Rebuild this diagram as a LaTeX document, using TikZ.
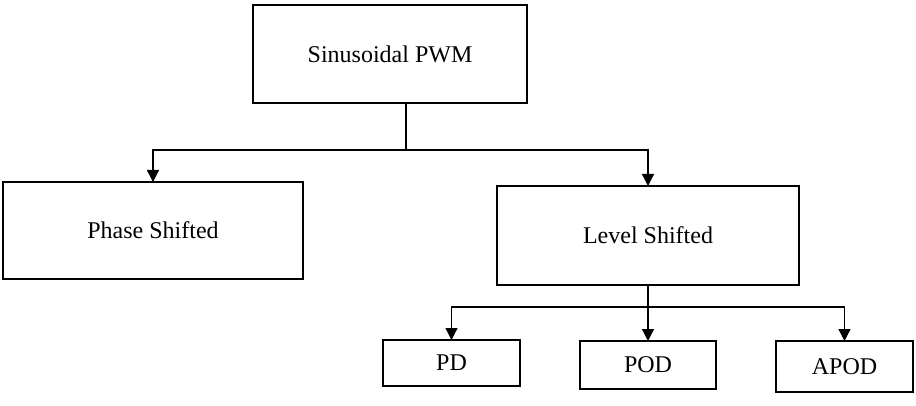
\documentclass[tikz,border=0pt]{standalone}
\usepackage{fontspec}
\setmainfont{Liberation Serif}
\usetikzlibrary{arrows.meta}
\begin{document}
\begin{tikzpicture}[x=1pt,y=-1pt,
  box/.style={draw, line width=1.3pt, inner sep=0pt, outer sep=0pt, font=\fontsize{24}{28}\selectfont},
  link/.style={draw, line width=1.3pt},
  arr/.style={link, -{Triangle[width=12pt,length=12pt]}}]
\useasboundingbox (0,0) rectangle (916,406);
\node[box, minimum width=274pt, minimum height=98pt] (s) at (390,54) {Sinusoidal PWM};
\node[box, minimum width=300pt, minimum height=97pt] (ph) at (153,230.5) {Phase Shifted};
\node[box, minimum width=302pt, minimum height=99pt] (lv) at (648,235.5) {Level Shifted};
\node[box, minimum width=137pt, minimum height=46pt] (pd) at (451.5,363) {PD};
\node[box, minimum width=136pt, minimum height=48pt] (pod) at (648,365) {POD};
\node[box, minimum width=137pt, minimum height=51pt] (apod) at (844.5,366.5) {APOD};
\coordinate (j1) at (406,150);
\coordinate (j2) at (648,307);
\draw[link] (j1 |- s.south) -- (j1);
\draw[arr] (j1) -| (ph.north);
\draw[arr] (j1) -| (lv.north);
\draw[arr] (lv.south) -- (pod.north);
\draw[arr] (j2) -| (pd.north);
\draw[arr] (j2) -| (apod.north);
\end{tikzpicture}
\end{document}
